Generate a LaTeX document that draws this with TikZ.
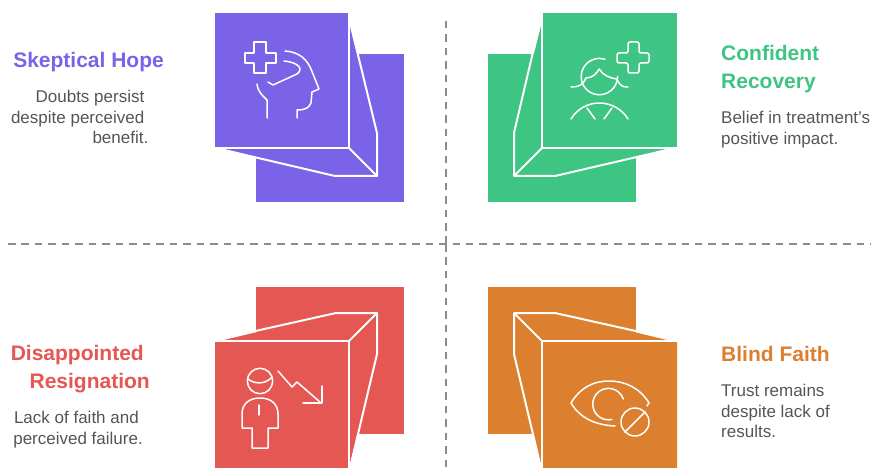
\documentclass[tikz,border=0pt]{standalone}
\usepackage{fontspec}
\setmainfont{Liberation Sans}
\definecolor{purpleq}{HTML}{7B63E8}
\definecolor{greenq}{HTML}{3EC584}
\definecolor{redq}{HTML}{E55753}
\definecolor{orangeq}{HTML}{DC802F}
\definecolor{bodytxt}{HTML}{555555}
\definecolor{dashgrey}{HTML}{8C8C8C}
\tikzset{
  fold/.style={draw=white, line width=2pt, line join=round},       % white folds of the box
  icon/.style={draw=white, line width=1.5pt, line cap=round, line join=round},
  divider/.style={draw=dashgrey, line width=1.5pt, dash pattern=on 7.5pt off 5.97pt},
  title/.style={font=\fontsize{21}{28}\selectfont\bfseries, inner sep=0pt},
  body/.style={font=\fontsize{17}{20.7}\selectfont, text=bodytxt, inner sep=0pt},
}
\begin{document}
\begin{tikzpicture}[x=1pt, y=-1pt]
  \clip (0,0) rectangle (871,468);
  \fill[white] (0,0) rectangle (871,468);
  % ---------------- dividers ----------------
  \coordinate (centre) at (446,244);
  \coordinate (top) at (446,18);
  \coordinate (bottom) at (446,468);
  \coordinate (left) at (8,244);
  \coordinate (right) at (871,244);
  \draw[divider] (centre) -- (top);
  \draw[divider] (centre) -- (bottom);
  \draw[divider] (left) -- (right);
  % ---------------- Skeptical Hope ----------------
  \fill[purpleq] (256,54) rectangle (404,202);
  \fill[purpleq] (349,22) -- (377,133) -- (377,176) -- (335,176) -- (224,149) -- cycle;
  \fill[purpleq] (215,13) rectangle (349,148);
  \draw[fold] (349,13) -- (349,148) -- (215,148);
  \draw[fold] (350,22) -- (377,133) -- (377,176) -- (335,176) -- (224,150);
  \draw[fold] (349,148) -- (377,176);
  \draw[icon] (254,42) -- (266,42) -- (266,53) -- (276,53) -- (276,63) -- (266,63) -- (266,73)
    -- (254,73) -- (254,63) -- (245,63) -- (245,53) -- (254,53) -- cycle;
  \draw[icon] (285,51) .. controls (300,52) and (307,60) .. (311,69) -- (319,89) -- (312,92)
    -- (311,103) .. controls (309,108) and (305,110) .. (297,110) -- (297,118);
  \draw[icon] (284,61) .. controls (296,62) and (305,68) .. (297,74) -- (273,85) -- (268,82);
  \draw[icon] (257,84) .. controls (258,92) and (262,95) .. (267,100) -- (267,118);
  \node[title, text=purpleq, anchor=east] (skeptical) at (164,62) {Skeptical Hope};
  \node[body, align=right, anchor=north east] (skepticaltxt) at (148.5,90)
    {Doubts persist\kern4pt\\despite perceived\kern4pt\\benefit.};
  % ---------------- Confident Recovery ----------------
  \fill[greenq] (488,54) rectangle (636,202);
  \fill[greenq] (542,22) -- (514,133) -- (514,176) -- (555,176) -- (667,149) -- cycle;
  \fill[greenq] (542,13) rectangle (677,148);
  \draw[fold] (542,13) -- (542,148) -- (677,148);
  \draw[fold] (540,22) -- (514,133) -- (514,176) -- (555,176) -- (667,150);
  \draw[fold] (542,148) -- (514,176);
  \draw[icon, rounded corners=2pt] (628,42) -- (639,42) -- (639,53) -- (649,53) -- (649,63) -- (639,63)
    -- (639,73) -- (628,73) -- (628,63) -- (617,63) -- (617,53) -- (628,53) -- cycle;
  \draw[icon] (605,59.3) arc[start angle=-72, end angle=-360, radius=18.2];
  \draw[icon] (571,87) .. controls (582,87) and (584,82) .. (586,78)
    .. controls (593,78) and (597,73) .. (599,69) .. controls (603,75) and (609,78) .. (617,79)
    .. controls (620,87) and (624,87) .. (628,87);
  \draw[icon] (571,119) .. controls (577,109) and (588,103) .. (599,103)
    .. controls (611,103) and (622,109) .. (628,119);
  \draw[icon] (587,108) -- (595,119);
  \draw[icon] (612,108) -- (604,119);
  \node[title, text=greenq, align=left, anchor=north west] (confident) at (721,45) {Confident\\Recovery};
  \node[body, align=left, anchor=north west] (confidenttxt) at (721,111)
    {Belief in treatment\char39 s\\positive impact.};
  % ---------------- Disappointed Resignation ----------------
  \fill[redq] (256,287) rectangle (404,434);
  \fill[redq] (224,340) -- (336,313) -- (377,313) -- (377,354) -- (349,468) -- (215,468) -- (215,341) -- cycle;
  \draw[fold] (215,341) -- (349,341) -- (349,468);
  \draw[fold] (224,338) -- (336,313) -- (377,313) -- (377,354) -- (350,468);
  \draw[fold] (349,341) -- (377,313);
  \draw[icon] (260,381) circle[radius=12.7];
  \draw[icon] (248,379) .. controls (254,384) and (265,385) .. (272,377);
  \draw[icon] (260,398) .. controls (249,398) and (242,404) .. (242,414) -- (242,428) -- (252,428)
    -- (252,448) -- (268,448) -- (268,428) -- (278,428) -- (278,414)
    .. controls (278,404) and (271,398) .. (260,398) -- cycle;
  \draw[icon] (259,405) -- (259,415);
  \draw[icon] (278,371) -- (292,387) -- (297,382) -- (320,402);
  \draw[icon] (322,386) -- (322,403) -- (303,403);
  \node[title, text=redq, align=right, anchor=north east] (disappointed) at (150,345)
    {Disappointed\kern6pt\\Resignation};
  \node[body, align=right, anchor=north east] (disappointedtxt) at (143,411)
    {Lack of faith and\kern4pt\\perceived failure.};
  % ---------------- Blind Faith ----------------
  \fill[orangeq] (488,287) rectangle (636,434);
  \fill[orangeq] (514,313) -- (555,313) -- (667,340) -- (677,341) -- (677,468) -- (541,468) -- (514,354) -- cycle;
  \draw[fold] (677,341) -- (542,341) -- (542,468);
  \draw[fold] (667,338) -- (555,313) -- (514,313) -- (514,354) -- (541,468);
  \draw[fold] (542,341) -- (514,313);
  \draw[icon] (649,403) -- (647,406);
  \draw[icon] (649,403) .. controls (640,388) and (625,381) .. (609,381)
    .. controls (593,381) and (580,388) .. (571,403)
    .. controls (580,418) and (595,425) .. (615,426);
  \draw[icon] (623.3,399) arc[start angle=-19, end angle=-282, radius=15.7];
  \draw[icon] (635,422) circle[radius=14];
  \draw[icon] (625,432) -- (645,412);
  \node[title, text=orangeq, anchor=west] (blind) at (721,354) {Blind Faith};
  \node[body, align=left, anchor=north west] (blindtxt) at (721,384)
    {Trust remains\\despite lack of\\results.};
\end{tikzpicture}
\end{document}
